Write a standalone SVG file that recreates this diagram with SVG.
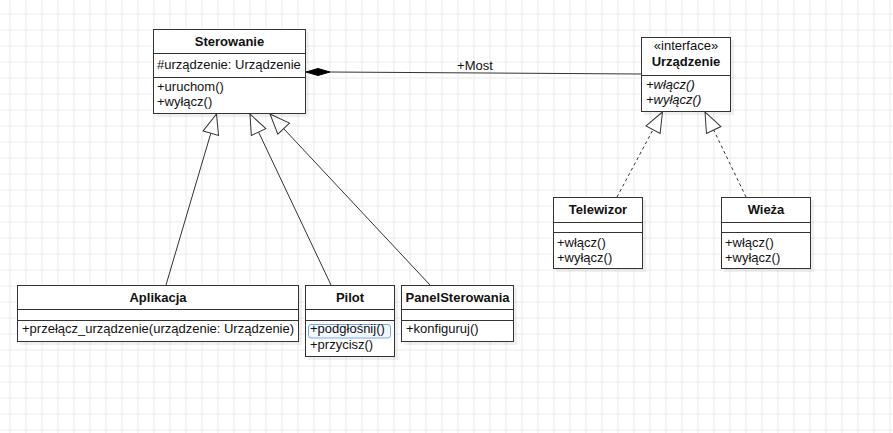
<svg xmlns="http://www.w3.org/2000/svg" width="893" height="433" viewBox="0 0 893 433">
<defs>
<pattern id="grid" x="9.5" y="13.5" width="16" height="16" patternUnits="userSpaceOnUse">
<path d="M0.5,0 V16 M0,0.5 H16" stroke="#ebebeb" stroke-width="1" fill="none"/>
</pattern>
<marker id="tri" viewBox="0 0 22 18" refX="21" refY="9" markerWidth="22" markerHeight="18" markerUnits="userSpaceOnUse" orient="auto">
<path d="M1,1 L21,9 L1,17 Z" fill="#fff" stroke="#333" stroke-width="1"/>
</marker>
</defs>
<style>
.box{fill:#fff;stroke:#333;stroke-width:1}
.sh{fill:#000;opacity:0.06}
.sep{stroke:#333;stroke-width:1}
.t{font-family:"Liberation Sans",Arial,sans-serif;font-size:13px;fill:#111}
.b{font-weight:bold}
.c{text-anchor:middle}
.i{font-style:italic}
.ln{fill:none;stroke:#333;stroke-width:1}
.dash{stroke-dasharray:3 3}
</style>
<rect x="0" y="0" width="893" height="433" fill="#fff"/>
<rect x="0" y="0" width="893" height="433" fill="url(#grid)"/>

<g id="connectors">
<line class="ln" x1="166" y1="285" x2="216.5" y2="114" marker-end="url(#tri)"/>
<line class="ln" x1="331" y1="285" x2="250" y2="114" marker-end="url(#tri)"/>
<line class="ln" x1="430" y1="285" x2="270" y2="114" marker-end="url(#tri)"/>
<line class="ln dash" x1="617" y1="197" x2="662.5" y2="112" marker-end="url(#tri)"/>
<line class="ln dash" x1="746" y1="197" x2="705" y2="112" marker-end="url(#tri)"/>
<line class="ln" x1="330" y1="72" x2="641" y2="74"/>
<polygon points="306,72 318,68.5 330,72 318,75.5" fill="#000" stroke="#000" stroke-width="1"/>
<text class="t c" x="475" y="70">+Most</text>
</g>

<g id="sterowanie">
<rect class="sh" x="156" y="32" width="153" height="85"/>
<rect class="box" x="153.5" y="29.5" width="152" height="84"/>
<line class="sep" x1="153.5" y1="53.5" x2="305.5" y2="53.5"/>
<line class="sep" x1="153.5" y1="77.5" x2="305.5" y2="77.5"/>
<text class="t b c" x="229.5" y="46">Sterowanie</text>
<text class="t" x="157" y="69">#urządzenie: Urządzenie</text>
<text class="t" x="157" y="91">+uruchom()</text>
<text class="t" x="157" y="106">+wyłącz()</text>
</g>

<g id="urzadzenie">
<rect class="sh" x="644" y="40" width="90" height="75"/>
<rect class="box" x="641.5" y="37.5" width="89" height="74"/>
<line class="sep" x1="641.5" y1="75.5" x2="730.5" y2="75.5"/>
<text class="t c" x="686" y="50">«interface»</text>
<text class="t b c" x="686" y="65.5">Urządzenie</text>
<text class="t i" x="646" y="89">+włącz()</text>
<text class="t i" x="646" y="104">+wyłącz()</text>
</g>

<g id="telewizor">
<rect class="sh" x="556" y="200" width="90" height="72"/>
<rect class="box" x="553.5" y="197.5" width="89" height="71"/>
<line class="sep" x1="553.5" y1="222.5" x2="642.5" y2="222.5"/>
<line class="sep" x1="553.5" y1="232.5" x2="642.5" y2="232.5"/>
<text class="t b c" x="598" y="214">Telewizor</text>
<text class="t" x="557" y="246.5">+włącz()</text>
<text class="t" x="557" y="261.5">+wyłącz()</text>
</g>

<g id="wieza">
<rect class="sh" x="724" y="200" width="90" height="72"/>
<rect class="box" x="721.5" y="197.5" width="89" height="71"/>
<line class="sep" x1="721.5" y1="222.5" x2="810.5" y2="222.5"/>
<line class="sep" x1="721.5" y1="232.5" x2="810.5" y2="232.5"/>
<text class="t b c" x="766" y="214">Wieża</text>
<text class="t" x="725" y="246.5">+włącz()</text>
<text class="t" x="725" y="261.5">+wyłącz()</text>
</g>

<g id="aplikacja">
<rect class="sh" x="20" y="288" width="282" height="57"/>
<rect class="box" x="17.5" y="285.5" width="281" height="56"/>
<line class="sep" x1="17.5" y1="309.5" x2="298.5" y2="309.5"/>
<line class="sep" x1="17.5" y1="320.5" x2="298.5" y2="320.5"/>
<text class="t b c" x="158" y="302">Aplikacja</text>
<text class="t" x="22" y="333">+przełącz_urządzenie(urządzenie: Urządzenie)</text>
</g>

<g id="pilot">
<rect class="sh" x="308" y="288" width="90" height="72"/>
<rect class="box" x="305.5" y="285.5" width="89" height="71"/>
<line class="sep" x1="305.5" y1="309.5" x2="394.5" y2="309.5"/>
<line class="sep" x1="305.5" y1="320.5" x2="394.5" y2="320.5"/>
<rect x="308.5" y="324.5" width="82" height="13.5" rx="2.5" fill="#f3f7ff" stroke="#7aa9f2" stroke-width="1"/>
<text class="t b c" x="350" y="302">Pilot</text>
<text class="t" x="310" y="333">+podgłośnij()</text>
<text class="t" x="310" y="349">+przycisz()</text>
</g>

<g id="panelsterowania">
<rect class="sh" x="404" y="288" width="113" height="57"/>
<rect class="box" x="401.5" y="285.5" width="112" height="56"/>
<line class="sep" x1="401.5" y1="309.5" x2="513.5" y2="309.5"/>
<line class="sep" x1="401.5" y1="320.5" x2="513.5" y2="320.5"/>
<text class="t b c" x="457.5" y="302">PanelSterowania</text>
<text class="t" x="406" y="333">+konfiguruj()</text>
</g>
</svg>
